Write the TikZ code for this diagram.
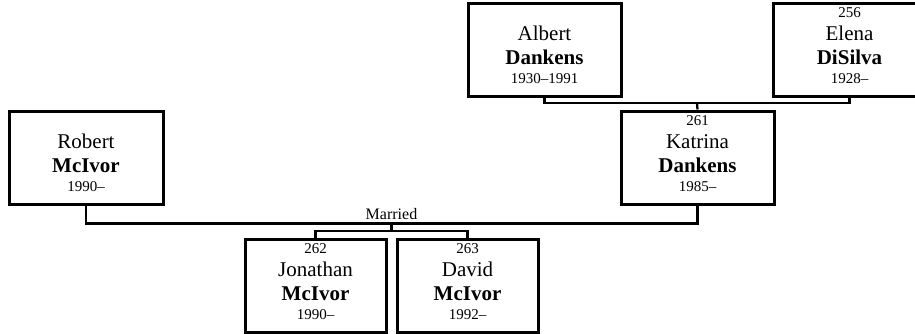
\documentclass[tikz,border=0pt]{standalone}
\usepackage{fontspec}
\setmainfont{Liberation Serif}
\usetikzlibrary{calc,positioning}
\tikzset{
  person/.style  = {draw, line width=2.25pt, minimum width=114.75pt, minimum height=69.75pt,
                    inner sep=0pt},
  child/.style   = {person, minimum width=105.75pt},
  wire/.style    = {line width=1.7pt},
  nametxt/.style = {anchor=base, inner sep=0pt, font=\fontsize{15.75pt}{18pt}\selectfont},
  surname/.style = {anchor=base, inner sep=0pt, font=\fontsize{15.75pt}{18pt}\selectfont\bfseries},
  numtxt/.style  = {anchor=base, inner sep=0pt, font=\fontsize{11.25pt}{13pt}\selectfont},
}

\begin{document}
\begin{tikzpicture}[x=0.75pt,y=-0.75pt]
  \useasboundingbox (0,0) rectangle (915,333);
  \clip (0,0) rectangle (915,333);
  % grandparents and parents
  \node[person] (albert) at (544.5,49.5) {};
  \node[person, minimum width=114pt] (elena) at (849.5,49.5) {};
  \node[person] (katrina) at (697.5,157.5) {};
  \node[person, minimum width=115.5pt] (robert) at (86,157.5) {};
  % children
  \node[child] (jonathan) at (315.5,285.5) {};
  \node[child] (david) at (467.5,285.5) {};

  \foreach \who/\first/\last/\years in {albert/Albert/Dankens/1930–1991,
      elena/Elena/DiSilva/1928–, katrina/Katrina/Dankens/1985–,
      robert/Robert/McIvor/1990–, jonathan/Jonathan/McIvor/1990–,
      david/David/McIvor/1992–}{
    \node[nametxt] (\who-first) at ($(\who.north)+(0,39)$) {\first};
    \node[surname] (\who-last) at ($(\who.north)+(0,63)$) {\last};
    \node[numtxt] (\who-years) at ($(\who.north)+(0,82)$) {\years};
  }
  \foreach \who/\no in {elena/256, katrina/261, jonathan/262, david/263}
    \node[numtxt] (\who-no) at ($(\who.north)+(0,15.5)$) {\no};

  % connectors
  \coordinate (parents) at (697,103);
  \draw[wire] (albert.south) |- (parents) -| (elena.south);
  \draw[wire] (parents) -- (katrina.north);

  \coordinate (wedding) at (391.5,223.5);
  \coordinate (kids) at (391.5,231);
  \draw[wire] (robert.south) |- (wedding) -| (katrina.south);
  \node[numtxt, font=\fontsize{12pt}{14pt}\selectfont] (married)
    at ($(wedding)+(0,-4)$) {Married};
  \draw[wire] (wedding) -- (kids);
  \draw[wire] (jonathan.north) |- (kids) -| (david.north);
\end{tikzpicture}
\end{document}
